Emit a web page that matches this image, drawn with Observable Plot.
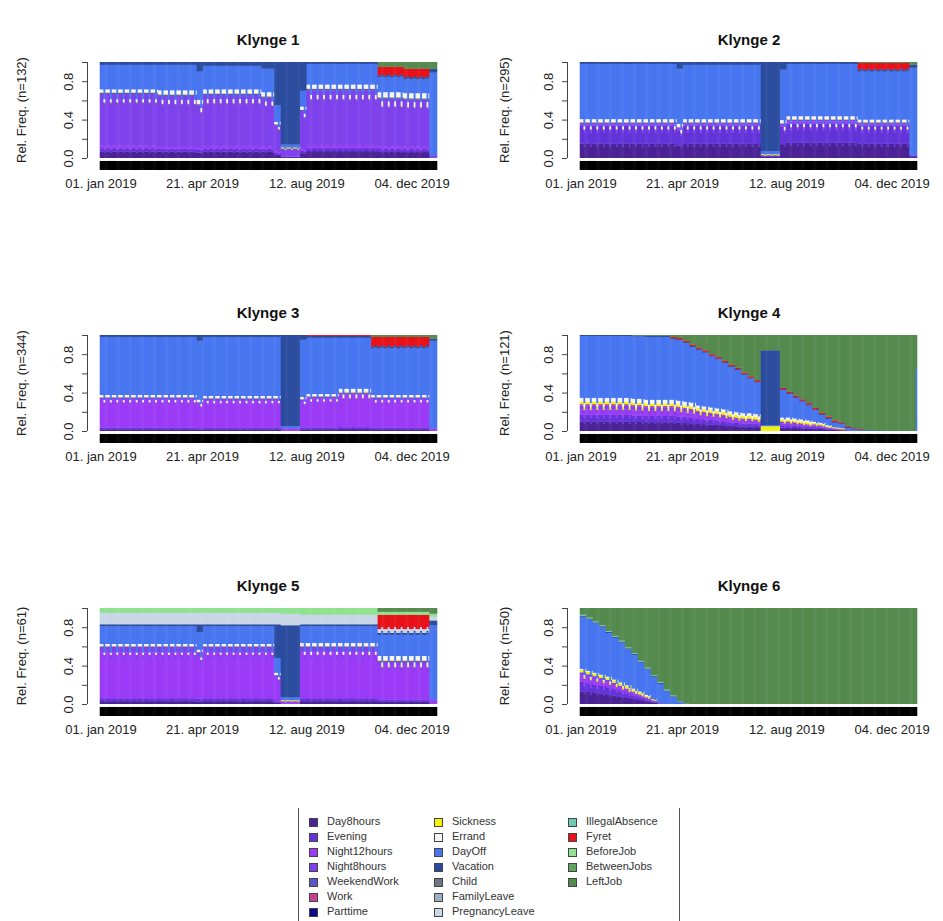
<!DOCTYPE html>
<html>
<head>
<meta charset="utf-8">
<script src="https://cdn.jsdelivr.net/npm/d3@7"></script>
<script src="https://cdn.jsdelivr.net/npm/@observablehq/plot@0.6"></script>
<style>
  body { margin: 0; background: #fff; font-family: "Liberation Sans", Arial, Helvetica, sans-serif; }
  #root { position: relative; width: 943px; height: 921px; overflow: hidden; background: #fff; }
  .panel { position: absolute; }
  .title { position: absolute; width: 240px; text-align: center; font-weight: bold; font-size: 15px; line-height: 18px; color: #111; }
  .ylab { position: absolute; width: 200px; height: 16px; line-height: 16px; text-align: center; font-size: 13px; color: #222; transform: rotate(-90deg); white-space: nowrap; }
  .legend { position: absolute; left: 298px; top: 808px; width: 380px; height: 120px; border-left: 1px solid #555; border-right: 1px solid #555; }
  .li { position: absolute; font-size: 11px; line-height: 13px; color: #333; white-space: nowrap; }
  .sw { position: absolute; width: 7px; height: 7px; border: 1px solid #444; }
</style>
</head>
<body>
<div id="root"></div>
<script>
// ---------------- data ----------------
const states = ["Day8hours","Evening","Night12hours","Night8hours","WeekendWork","Work","Parttime",
  "Sickness","Errand","DayOff","Vacation","Child","FamilyLeave","PregnancyLeave",
  "IllegalAbsence","Fyret","BeforeJob","BetweenJobs","LeftJob"];
const stateColors = ["#4B2396","#6334D9","#9B3BF7","#7E42EC","#5B55C9","#C4428F","#0A0A8A",
  "#F2F20F","#F4F4F4","#4876F0","#2B4C9E","#6D7884","#9AAFC0","#C9D6E8",
  "#70C9B0","#E8121A","#8FE28F","#5FA55F","#558A4F"];

const clusterTitles = ["Klynge 1","Klynge 2","Klynge 3","Klynge 4","Klynge 5","Klynge 6"];
const clusterN = [132, 295, 344, 121, 61, 50];

const tickDays = [0, 110, 223, 337];
const tickLabels = ["01. jan 2019","21. apr 2019","12. aug 2019","04. dec 2019"];
const yTicks = [0, 0.2, 0.4, 0.6, 0.8, 1.0];
const yTickLabels = [0, 0.4, 0.8];

// shares of the work states (Day8hours..Parttime) within total work, per cluster
const mix1 = [0.10, 0.05, 0.04, 0.79, 0.02, 0, 0];
const mix2 = [0.40, 0.50, 0.05, 0.05, 0, 0, 0];
const mix3 = [0.05, 0.05, 0.85, 0.05, 0, 0, 0];
const mix4 = [0.35, 0.25, 0.20, 0.15, 0, 0.05, 0];
const mix5 = [0.05, 0.05, 0.80, 0.10, 0, 0, 0];
const mix6 = [0.40, 0.30, 0.20, 0.10, 0, 0, 0];

// weekend share of weekday work, per cluster
const weekendFactor = [0.85, 0.80, 0.85, 0.80, 0.85, 0.80];

// week segments: [fromWeek, toWeek, work, Sickness, Errand, Vacation, Fyret, LeftJob, BeforeJob, PregnancyLeave, IllegalAbsence]
// DayOff takes the remainder of each day
const segCols = ["work","Sickness","Errand","Vacation","Fyret","LeftJob","BeforeJob","PregnancyLeave","IllegalAbsence"];

const k1 = [
  [0,8,   .68,.005,.03,.03,0,0,0,0,0],
  [9,14,  .66,.005,.04,.03,0,0,0,0,0],
  [15,15, .56,.005,.04,.10,0,0,0,0,0],
  [16,24, .67,.005,.04,.04,0,0,0,0,0],
  [25,26, .64,.005,.04,.07,0,0,0,0,0],
  [27,27, .35,.005,.02,.45,0,0,0,0,0],
  [28,30, .10,.01,0,.86,0,0,0,0,0],
  [31,31, .50,.005,.03,.30,0,0,0,0,0],
  [32,42, .72,.005,.04,.02,0,0,0,0,0],
  [43,46, .63,.005,.05,.02,.09,.05,0,0,0],
  [47,50, .62,.005,.05,.02,.09,.07,0,0,0],
  [51,52, .03,0,0,.04,0,.07,0,0,0]
];
const k2 = [
  [0,14,  .37,.005,.03,.02,0,0,0,0,0],
  [15,15, .32,.005,.03,.07,0,0,0,0,0],
  [16,27, .37,.005,.03,.03,0,0,0,0,0],
  [28,30, .03,.01,0,.93,0,0,0,0,0],
  [31,31, .36,.005,.03,.08,0,0,0,0,0],
  [32,42, .40,.005,.03,.02,0,0,0,0,0],
  [43,50, .37,.01,.02,.02,.07,.01,0,0,0],
  [51,52, .03,0,0,.03,0,.03,0,0,0]
];
const k3 = [
  [0,14,  .35,.005,.02,.02,0,0,0,0,0],
  [15,15, .30,.005,.02,.06,0,0,0,0,0],
  [16,27, .34,.005,.02,.02,0,0,0,0,0],
  [28,30, .03,0,0,.95,0,0,0,0,0],
  [31,31, .33,.005,.02,.05,0,0,0,0,0],
  [32,36, .36,.005,.02,.02,.01,0,0,0,0],
  [37,41, .40,.01,.03,.02,.01,0,0,0,0],
  [42,50, .35,.005,.02,.02,.10,.02,0,0,0],
  [51,52, .03,0,0,.02,0,.04,0,0,0]
];
const k4 = [
  [0,7,   .28,.025,.04,.01,0,0,0,0,0],
  [8,9,   .27,.025,.04,.01,0,.005,0,0,0],
  [10,13, .26,.025,.04,.01,0,.01,0,0,0],
  [14,14, .26,.025,.04,.01,.015,.02,0,0,0],
  [15,15, .25,.025,.04,.01,.015,.03,0,0,0],
  [16,16, .24,.025,.04,.01,.015,.06,0,0,0],
  [17,17, .23,.025,.04,.01,.015,.10,0,0,0],
  [18,18, .21,.025,.03,.01,.015,.13,0,0,0],
  [19,19, .20,.025,.03,.01,.015,.16,0,0,0],
  [20,20, .19,.025,.03,.01,.015,.20,0,0,0],
  [21,21, .18,.025,.03,.01,.015,.23,0,0,0],
  [22,22, .17,.025,.03,.01,.015,.27,0,0,0],
  [23,23, .15,.025,.03,.01,.015,.31,0,0,0],
  [24,24, .14,.025,.03,.01,.015,.34,0,0,0],
  [25,25, .13,.025,.03,.01,.015,.39,0,0,0],
  [26,26, .13,.025,.03,.01,.015,.43,0,0,0],
  [27,27, .12,.025,.03,.01,.015,.47,0,0,0],
  [28,30, 0,.05,0,.78,0,.16,0,0,0],
  [31,31, .10,.02,.02,.01,.015,.55,0,0,0],
  [32,32, .10,.02,.02,.01,.015,.59,0,0,0],
  [33,33, .09,.02,.02,.01,.015,.63,0,0,0],
  [34,34, .08,.02,.02,.01,.015,.67,0,0,0],
  [35,35, .07,.02,.02,.01,.015,.71,0,0,0],
  [36,36, .07,.015,.01,.01,.015,.76,0,0,0],
  [37,37, .06,.015,.01,.01,.015,.81,0,0,0],
  [38,38, .04,.01,.01,.01,.015,.85,0,0,0],
  [39,39, .03,.01,0,.01,.015,.89,0,0,0],
  [40,40, .02,.01,0,.01,.01,.91,0,0,0],
  [41,41, .01,0,0,.01,.01,.95,0,0,0],
  [42,42, 0,0,0,.01,.005,.97,0,0,0],
  [43,43, 0,0,0,.01,.005,.98,0,0,0],
  [44,45, 0,0,0,.005,0,.99,0,0,0],
  [46,51, 0,0,0,0,0,1,0,0,0],
  [52,52, 0,0,0,0,0,.35,0,0,0]
];
const k5 = [
  [0,14,  .60,.005,.02,.02,0,0,.05,.12,0],
  [15,15, .54,.005,.02,.08,0,0,.05,.12,0],
  [16,26, .60,.005,.02,.02,0,0,.05,.12,0],
  [27,27, .30,.005,.02,.35,0,0,.05,.12,0],
  [28,30, .03,.01,0,.75,0,0,.06,.12,0],
  [31,42, .60,.005,.03,.02,0,0,.07,.10,0],
  [43,50, .45,.01,.04,.02,.15,.04,.03,.04,0],
  [51,52, .05,0,0,.05,0,.06,.03,.04,0]
];
const k6 = [
  [0,0,   .33,.025,.01,.01,0,.07,0,0,.01],
  [1,1,   .31,.025,.01,.01,0,.10,0,0,.01],
  [2,2,   .29,.025,.01,.01,0,.14,0,0,.01],
  [3,3,   .27,.025,.01,.01,0,.18,0,0,.01],
  [4,4,   .25,.025,.01,.01,0,.24,0,0,.01],
  [5,5,   .22,.025,.01,.01,0,.29,0,0,.01],
  [6,6,   .19,.025,.01,.01,0,.34,0,0,.01],
  [7,7,   .16,.025,.01,.01,0,.41,0,0,.01],
  [8,8,   .13,.02,.01,.01,0,.47,0,0,.01],
  [9,9,   .10,.02,.01,.01,0,.55,0,0,.01],
  [10,10, .07,.015,.01,.01,0,.62,0,0,.01],
  [11,11, .04,.01,0,.01,0,.70,0,0,.01],
  [12,12, .01,0,0,.01,0,.77,0,0,.01],
  [13,13, 0,0,0,.01,0,.85,0,0,.01],
  [14,14, 0,0,0,.01,0,.91,0,0,.01],
  [15,15, 0,0,0,.005,0,.97,0,0,.005],
  [16,16, 0,0,0,0,0,.995,0,0,0],
  [17,52, 0,0,0,0,0,1,0,0,0]
];

const clusterSegments = [k1, k2, k3, k4, k5, k6];
const clusterMix = [mix1, mix2, mix3, mix4, mix5, mix6];

// ---------------- build rows ----------------
const workStates = states.slice(0, 7);
const days = d3.range(365);

function buildRows(segs, mix, wf) {
  const rows = [];
  for (const d of days) {
    const w = Math.floor(d / 7);
    const s = segs.find(r => w >= r[0] && w <= r[1]);
    const v = {};
    segCols.forEach((c, i) => v[c] = s[i + 2]);
    const weekend = (d % 7 === 4 || d % 7 === 5);
    const f = weekend ? wf : 1;
    const share = new Map();
    workStates.forEach((st, i) => share.set(st, v.work * f * mix[i]));
    for (const c of segCols.slice(1)) share.set(c, c === "Fyret" ? v[c] * f : v[c]);
    let used = 0;
    for (const val of share.values()) used += val;
    share.set("DayOff", Math.max(0, 1 - used));
    let y = 0;
    for (const st of states) {
      const val = share.get(st) || 0;
      if (val > 0) { rows.push({day: d, state: st, y1: y, y2: y + val}); y += val; }
    }
  }
  return rows;
}

// ---------------- layout ----------------
const root = document.getElementById("root");
const colLeft = [0, 480];
const rowTop = [52, 325, 598];
const titleCenterX = [268, 749];
const ylabCenterX = [22, 505];
const xMin = -14.1;
const labelMap = new Map(tickDays.map((d, i) => [d + 0.5, tickLabels[i]]));

clusterSegments.forEach((segs, k) => {
  const col = k % 2, row = Math.floor(k / 2);
  const rows = buildRows(segs, clusterMix[k], weekendFactor[k]);
  const chart = Plot.plot({
    width: 460, height: 143,
    marginLeft: 87, marginRight: 23, marginTop: 10, marginBottom: 25,
    x: {domain: [xMin, 365]},
    y: {domain: [-0.125, 1]},
    color: {domain: states, range: stateColors},
    style: {fontFamily: '"Liberation Sans", Arial, sans-serif', fontSize: "13px", color: "#222", background: "transparent"},
    marks: [
      Plot.rect(rows, {x1: d => d.day, x2: d => d.day + 1, y1: "y1", y2: "y2", fill: "state", insetLeft: -0.3, insetRight: -0.3}),
      // the dense per-day x ticks that form the black band under the bars
      Plot.rect(days, {x1: d => d, x2: d => d + 1, y1: -0.031, y2: -0.125, fill: "#000", insetLeft: -0.3, insetRight: -0.3}),
      Plot.ruleX([xMin], {y1: 0, y2: 1, stroke: "#444"}),
      Plot.axisY({ticks: yTicks, tickSize: 5, tickFormat: () => "", label: null, stroke: "#444"}),
      Plot.text(yTickLabels, {x: xMin, y: d => d, text: d => d.toFixed(1), rotate: -90, dx: -19, fontSize: 13, fill: "#222"}),
      Plot.axisX({ticks: tickDays.map(d => d + 0.5), tickFormat: d => labelMap.get(d), tickSize: 0, tickPadding: 8, label: null, fontSize: 13})
    ]
  });
  const wrap = document.createElement("div");
  wrap.className = "panel";
  wrap.style.left = colLeft[col] + "px";
  wrap.style.top = rowTop[row] + "px";
  wrap.appendChild(chart);
  root.appendChild(wrap);

  const t = document.createElement("div");
  t.className = "title";
  t.textContent = clusterTitles[k];
  t.style.left = (titleCenterX[col] - 120) + "px";
  t.style.top = (rowTop[row] - 21) + "px";
  root.appendChild(t);

  const yl = document.createElement("div");
  yl.className = "ylab";
  yl.textContent = `Rel. Freq. (n=${clusterN[k]})`;
  yl.style.left = (ylabCenterX[col] - 100) + "px";
  yl.style.top = (rowTop[row] + 58 - 8) + "px";
  root.appendChild(yl);
});

// ---------------- legend ----------------
const legend = document.createElement("div");
legend.className = "legend";
root.appendChild(legend);
const legendColX = [10, 135, 269];
states.forEach((st, i) => {
  const c = Math.floor(i / 7), r = i % 7;
  const sw = document.createElement("div");
  sw.className = "sw";
  sw.style.background = stateColors[i];
  sw.style.left = legendColX[c] + "px";
  sw.style.top = (10 + r * 15) + "px";
  legend.appendChild(sw);
  const lab = document.createElement("div");
  lab.className = "li";
  lab.textContent = st;
  lab.style.left = (legendColX[c] + 18) + "px";
  lab.style.top = (7 + r * 15) + "px";
  legend.appendChild(lab);
});
</script>
</body>
</html>
